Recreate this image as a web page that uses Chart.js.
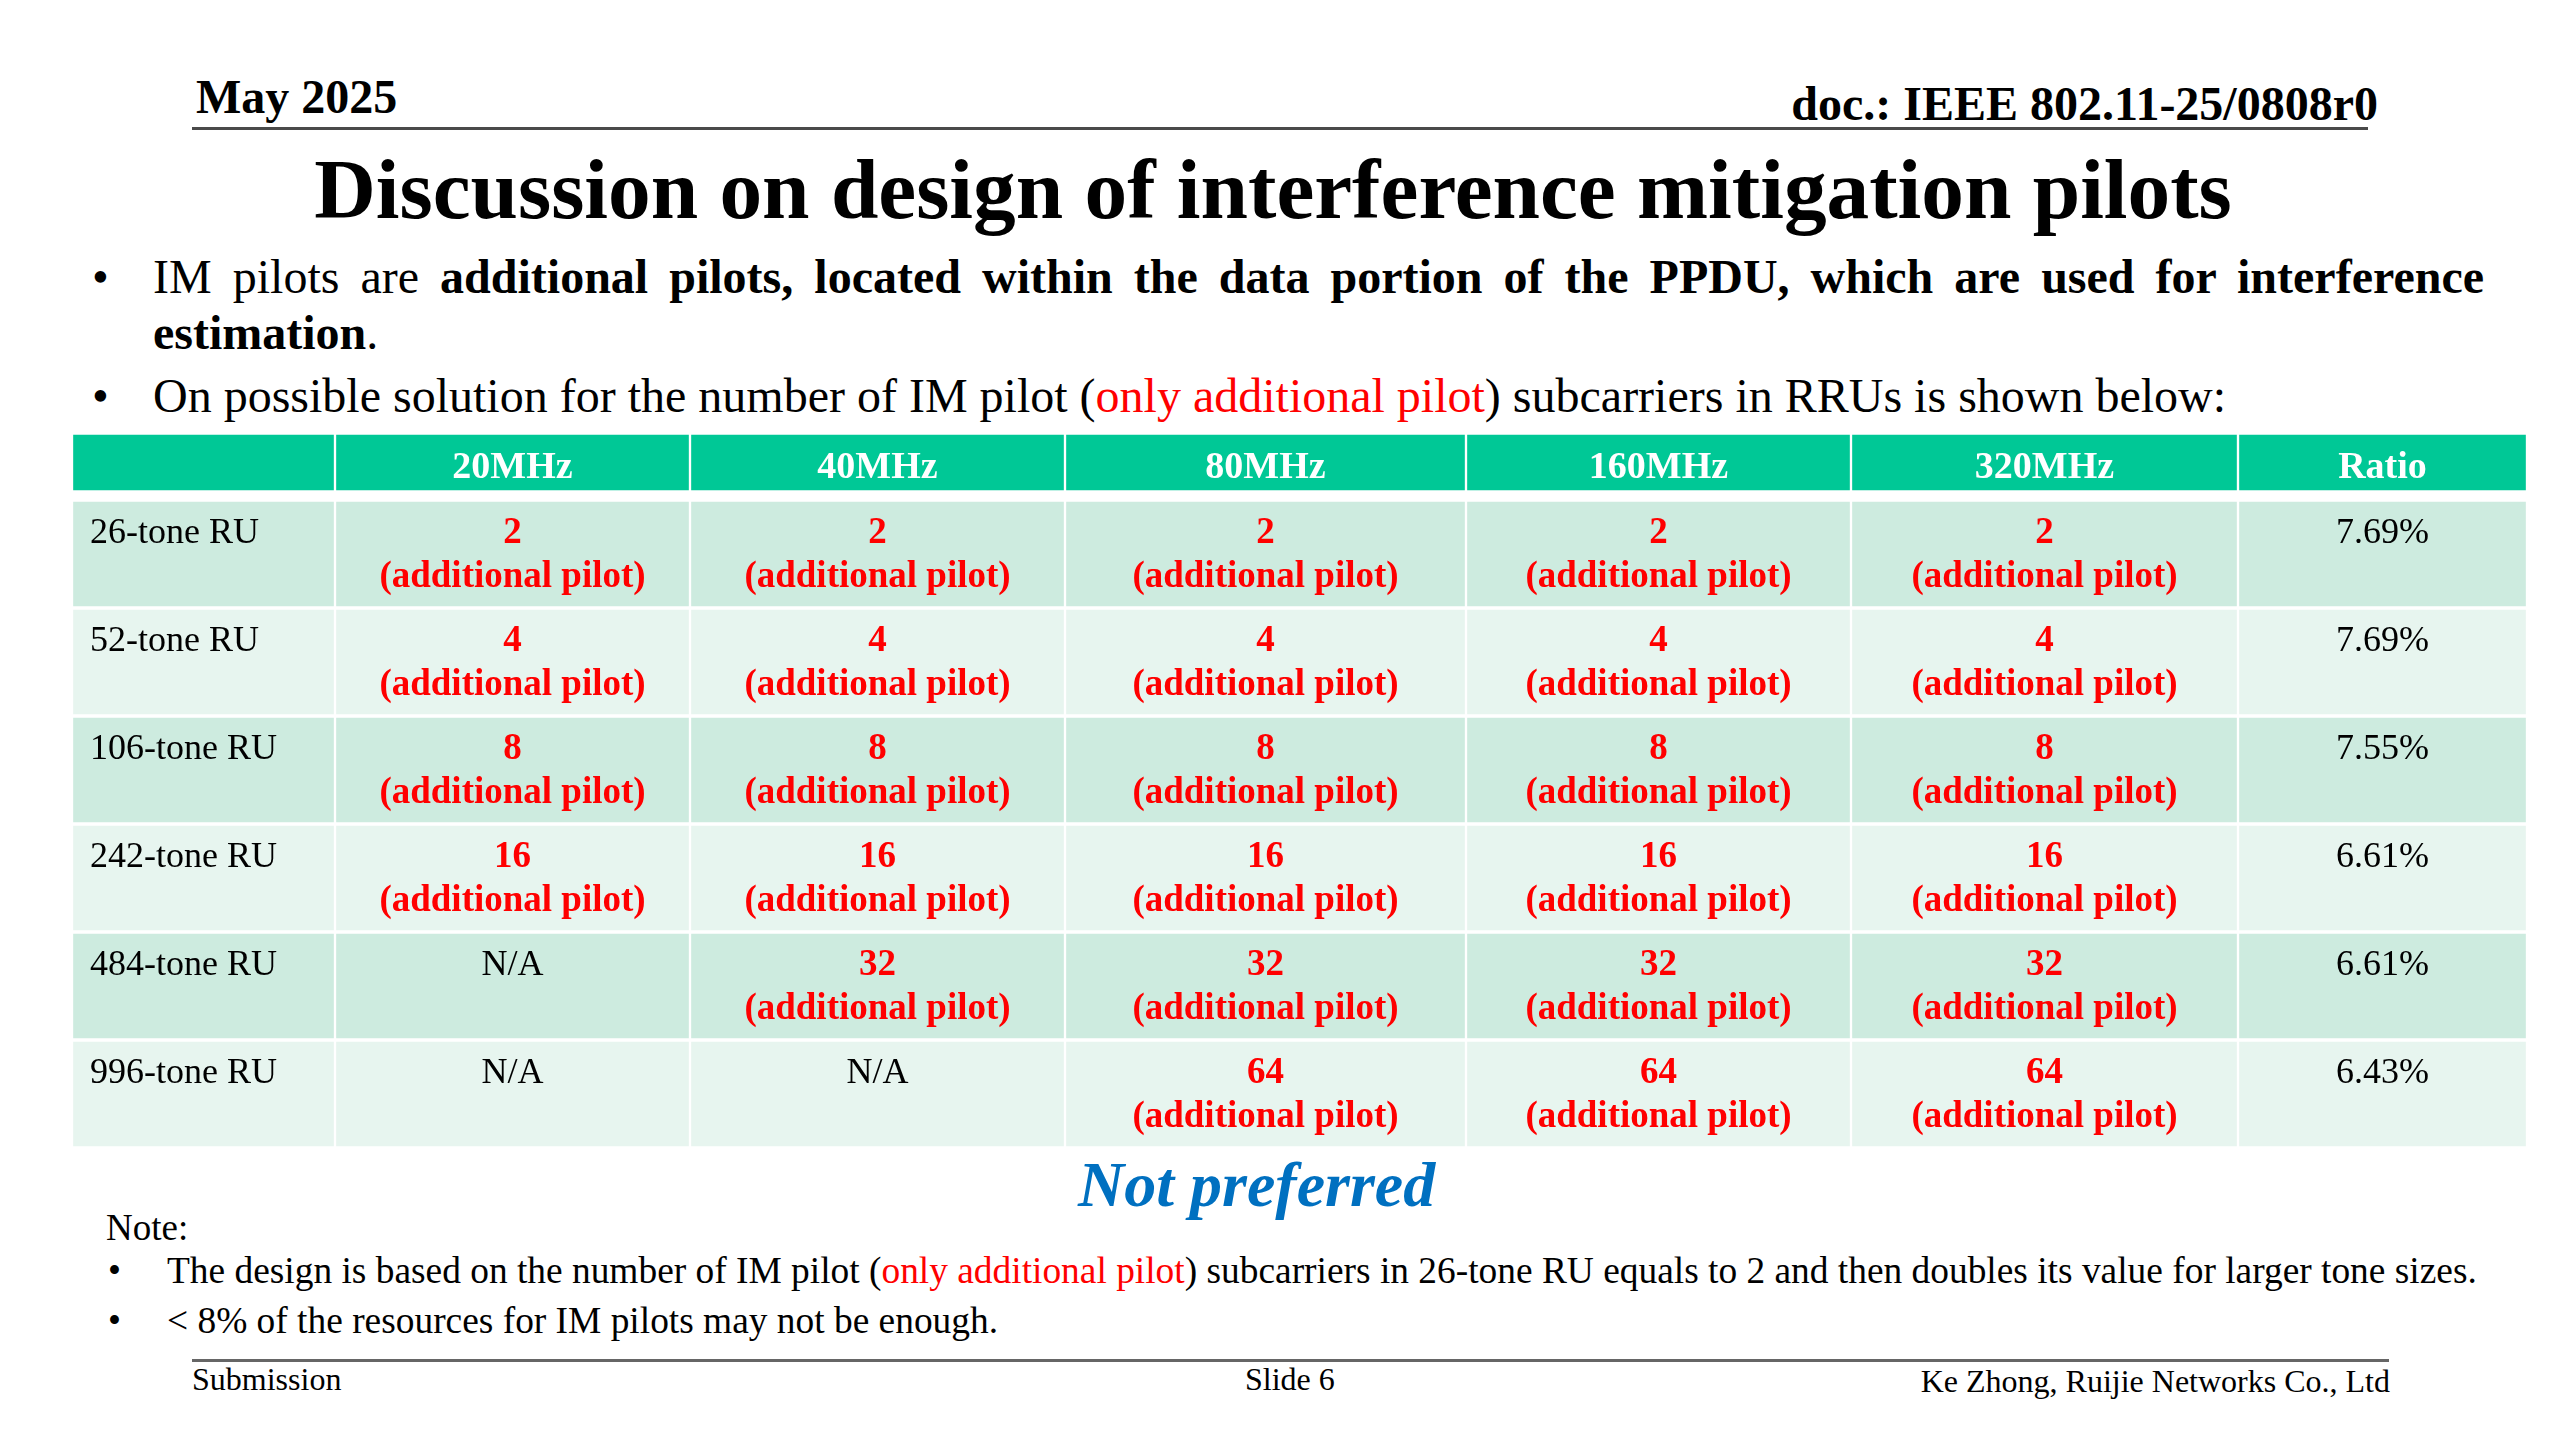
<!DOCTYPE html>
<html>
<head>
<meta charset="utf-8">
<script src="https://cdn.jsdelivr.net/npm/chart.js@4.4.1/dist/chart.umd.min.js"></script>
<style>
  html, body { margin: 0; padding: 0; background: #fff; }
  body { width: 2560px; height: 1440px; position: relative; overflow: hidden;
         font-family: "Liberation Serif", "Times New Roman", serif; color: #000; }
  .t { position: absolute; line-height: 1; white-space: nowrap; }
  .b { font-weight: bold; }
  .red { color: #ff0000; }
  .rule { position: absolute; height: 3px; background: #4a4a4a; }
  canvas { position: absolute; }
</style>
</head>
<body>

<div class="t b" style="left:196px; top:73px; font-size:48px;">May 2025</div>
<div class="t b" style="right:182px; top:80px; font-size:48px;">doc.: IEEE 802.11-25/0808r0</div>
<div class="rule" style="left:192px; width:2176px; top:127px;"></div>

<div class="t b" style="left:-7px; width:2560px; text-align:center; top:147px; font-size:85.3px;">Discussion on design of interference mitigation pilots</div>

<div class="t" style="left:92px; top:253px; font-size:48px;">•</div>
<div class="t" style="left:153px; top:253px; font-size:48px;"><span id="line1" style="display:inline-block;">IM pilots are <b>additional pilots, located within the data portion of the PPDU, which are used for interference</b></span></div>
<div class="t b" style="left:153px; top:309px; font-size:48px;">estimation<span style="font-weight:normal">.</span></div>

<div class="t" style="left:92px; top:372px; font-size:48px;">•</div>
<div class="t" style="left:153px; top:372px; font-size:48px;">On possible solution for the number of IM pilot (<span class="red">only additional pilot</span>) subcarriers in RRUs is shown below:</div>

<canvas id="head" width="2455" height="59" style="left:72px; top:433px;"></canvas>
<canvas id="body" width="2455" height="648" style="left:72px; top:500px;"></canvas>

<div class="t b" style="left:1078px; top:1153px; font-size:64px; font-style:italic; color:#0070c0;">Not preferred</div>

<div class="t" style="left:106px; top:1209px; font-size:37px;">Note:</div>
<div class="t" style="left:108px; top:1252px; font-size:37px;">•</div>
<div class="t" style="left:167px; top:1252px; font-size:37.4px;">The design is based on the number of IM pilot (<span class="red">only additional pilot</span>) subcarriers in 26-tone RU equals to 2 and then doubles its value for larger tone sizes.</div>
<div class="t" style="left:108px; top:1302px; font-size:37px;">•</div>
<div class="t" style="left:167px; top:1302px; font-size:37.4px;">&lt; 8% of the resources for IM pilots may not be enough.</div>

<div class="rule" style="left:192px; width:2197px; top:1359px; background:#666;"></div>
<div class="t" style="left:192px; top:1363px; font-size:32px;">Submission</div>
<div class="t" style="left:1245px; top:1363px; font-size:32px;">Slide 6</div>
<div class="t" style="right:170px; top:1365px; font-size:32px;">Ke Zhong, Ruijie Networks Co., Ltd</div>

<script>
// table content
const ruLabels = ['26-tone RU', '52-tone RU', '106-tone RU', '242-tone RU', '484-tone RU', '996-tone RU'];
const bandwidths = ['20MHz', '40MHz', '80MHz', '160MHz', '320MHz'];
const pilots20 = [2, 4, 8, 16, null, null];
const pilots40 = [2, 4, 8, 16, 32, null];
const pilots80 = [2, 4, 8, 16, 32, 64];
const pilots160 = [2, 4, 8, 16, 32, 64];
const pilots320 = [2, 4, 8, 16, 32, 64];
const ratios = ['7.69%', '7.69%', '7.55%', '6.61%', '6.61%', '6.43%'];
const pilotNote = '(additional pilot)';

const headerLabels = [''].concat(bandwidths, ['Ratio']);
const pilotCols = [pilots20, pilots40, pilots80, pilots160, pilots320];

// layout: relative column widths of the table
const colWidths = [263, 355, 375, 401, 385, 387, 289];

// first bullet line is justified to the text box width
const line1 = document.getElementById('line1');
const gaps = (line1.textContent.match(/ /g) || []).length;
line1.style.wordSpacing = ((2331 - line1.getBoundingClientRect().width) / gaps) + 'px';

const FONT = '"Liberation Serif", "Times New Roman", serif';
const GREEN = '#00c896';
const ROW_DARK = '#cdebdf';
const ROW_LIGHT = '#e7f5ef';

function cellBox(el) {
    const p = el.getProps(['x', 'base', 'y', 'height'], true);
    return { left: Math.min(p.x, p.base), right: Math.max(p.x, p.base), top: p.y - p.height / 2, h: p.height };
}

const cellText = {
    id: 'cellText',
    afterDatasetsDraw(chart, args, opts) {
        const ctx = chart.ctx;
        ctx.save();
        chart.data.datasets.forEach((ds, c) => {
            chart.getDatasetMeta(c).data.forEach((el, r) => {
                const b = cellBox(el);
                const cx = (b.left + b.right) / 2;
                opts.draw(ctx, c, r, b, cx);
            });
        });
        ctx.restore();
    }
};

function makeTable(canvasId, rows, colorFn, draw) {
    const datasets = colWidths.map((w, c) => ({
        label: headerLabels[c] || 'RU',
        data: rows.map(() => w),
        backgroundColor: colorFn,
        borderColor: '#ffffff',
        borderWidth: { top: 2, bottom: 2, left: 1.5, right: 1.5 },
        borderSkipped: false,
        barPercentage: 1,
        categoryPercentage: 1
    }));
    return new Chart(document.getElementById(canvasId), {
        type: 'bar',
        data: { labels: rows, datasets: datasets },
        options: {
            indexAxis: 'y',
            responsive: false,
            animation: false,
            devicePixelRatio: 1,
            layout: { padding: 0 },
            scales: {
                x: { stacked: true, display: false, min: 0, max: colWidths.reduce((a, b) => a + b, 0) },
                y: { stacked: true, display: false }
            },
            plugins: { legend: { display: false }, tooltip: { enabled: false }, cellText: { draw: draw } }
        },
        plugins: [cellText]
    });
}

// header row
makeTable('head', ['header'], GREEN, (ctx, c, r, b, cx) => {
    ctx.fillStyle = '#ffffff';
    ctx.font = 'bold 38px ' + FONT;
    ctx.textAlign = 'center';
    ctx.textBaseline = 'alphabetic';
    ctx.fillText(headerLabels[c], cx, b.top + 45);
});

// body rows
makeTable('body', ruLabels, (ctx) => (ctx.dataIndex % 2 === 0 ? ROW_DARK : ROW_LIGHT), (ctx, c, r, b, cx) => {
    ctx.textBaseline = 'alphabetic';
    const y1 = b.top + 43, y2 = b.top + 87;
    if (c === 0) {
        ctx.fillStyle = '#000';
        ctx.font = '36px ' + FONT;
        ctx.textAlign = 'left';
        ctx.fillText(ruLabels[r], b.left + 18, y1);
    } else if (c === colWidths.length - 1) {
        ctx.fillStyle = '#000';
        ctx.font = '36px ' + FONT;
        ctx.textAlign = 'center';
        ctx.fillText(ratios[r], cx, y1);
    } else {
        const v = pilotCols[c - 1][r];
        ctx.textAlign = 'center';
        if (v === null) {
            ctx.fillStyle = '#000';
            ctx.font = '36px ' + FONT;
            ctx.fillText('N/A', cx, y1);
        } else {
            ctx.fillStyle = '#ff0000';
            ctx.font = 'bold 37px ' + FONT;
            ctx.fillText(String(v), cx, y1);
            ctx.fillText(pilotNote, cx, y2);
        }
    }
});
</script>
</body>
</html>
